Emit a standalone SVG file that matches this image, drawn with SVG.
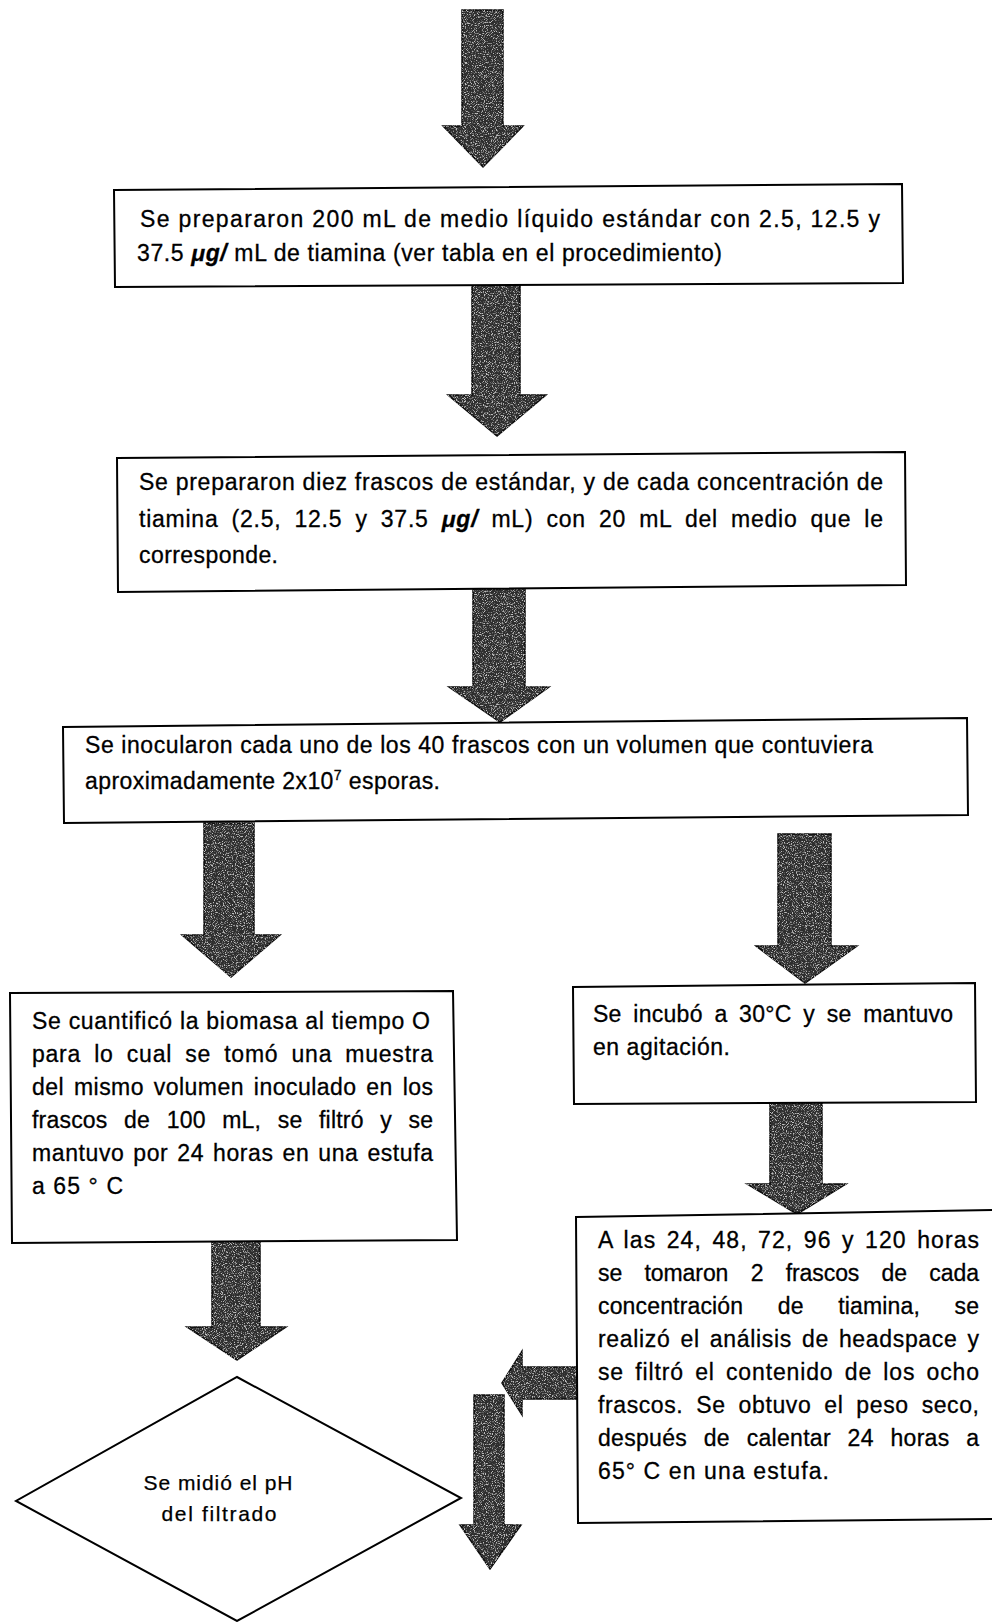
<svg xmlns="http://www.w3.org/2000/svg" width="992" height="1622" viewBox="0 0 992 1622">
<style>
.bg{fill:#fff}
.box{fill:#fff;stroke:#000;stroke-width:2;stroke-linejoin:miter}
.arr{fill:#2e2e2e;stroke:#0a0a0a;stroke-width:1.5;stroke-linejoin:miter;filter:url(#grain)}
.t{font-family:"Liberation Sans",Arial,sans-serif;font-size:23px;fill:#000;stroke:#000;stroke-width:0.3}
.tn{font-family:"Liberation Sans",Arial,sans-serif;font-size:23px;fill:#000;stroke:#000;stroke-width:0.3}
.td{font-family:"Liberation Sans",Arial,sans-serif;font-size:21px;fill:#000;stroke:#000;stroke-width:0.25}
.mu{font-style:italic;font-weight:bold}
</style>
<defs>
<filter id="grain" x="-5%" y="-5%" width="110%" height="110%" color-interpolation-filters="sRGB">
<feTurbulence type="fractalNoise" baseFrequency="0.9" numOctaves="2" seed="7" result="noise"/>
<feColorMatrix in="noise" type="matrix" values="0 0 0 0 0.75  0 0 0 0 0.75  0 0 0 0 0.75  5 0 0 0 -2.55" result="spk"/>
<feComposite in="spk" in2="SourceAlpha" operator="in" result="spkIn"/>
<feMerge><feMergeNode in="SourceGraphic"/><feMergeNode in="spkIn"/></feMerge>
</filter>
</defs>
<rect class="bg" x="0" y="0" width="992" height="1622"/>

<g id="connectors">
<polygon class="arr" points="462,10 503,10 503,126 523,126 483,167 443,126 462,126"/>
<polygon class="arr" points="472,283 520,283 520,395 546,395 497,436 448,395 472,395"/>
<polygon class="arr" points="473,588 525,588 525,687 549,687 500,722 449,687 473,687"/>
<polygon class="arr" points="204,823 254,823 254,935 280,935 231,977 182,935 204,935"/>
<polygon class="arr" points="778,834 831,834 831,946 857,946 805,983 756,946 778,946"/>
<polygon class="arr" points="212,1241 260,1241 260,1327 286,1327 237,1360 187,1327 212,1327"/>
<polygon class="arr" points="770,1102 822,1102 822,1184 846,1184 797,1214 747,1184 770,1184"/>
<polygon class="arr" points="577,1367 577,1399 522,1399 522,1415 502,1383 522,1351 522,1367"/>
<polygon class="arr" points="474,1395 504,1395 504,1525 521,1525 490,1569 460,1525 474,1525"/>
</g>

<g id="n1">
<polygon class="box" points="114,190 902,184 903,283 115,287"/>
<text class="t" x="140" y="227" textLength="740" lengthAdjust="spacing">Se prepararon 200 mL de medio líquido estándar con 2.5, 12.5 y</text>
<text class="t" x="137" y="261" textLength="585" lengthAdjust="spacing">37.5 <tspan class="mu">μg/</tspan> mL de tiamina (ver tabla en el procedimiento)</text>
</g>

<g id="n2">
<polygon class="box" points="117,458 905,452 906,585 118,592"/>
<text class="t" x="139" y="490" textLength="744" lengthAdjust="spacing">Se prepararon diez frascos de estándar, y de cada concentración de</text>
<text class="t" x="139" y="527" textLength="744" lengthAdjust="spacing" word-spacing="6">tiamina (2.5, 12.5 y 37.5 <tspan class="mu">μg/</tspan> mL) con 20 mL del medio que le</text>
<text class="t" x="139" y="563" textLength="139" lengthAdjust="spacing">corresponde.</text>
</g>

<g id="n3">
<polygon class="box" points="63,727 967,718 968,815 64,823"/>
<text class="t" x="85" y="753" textLength="788" lengthAdjust="spacing">Se inocularon cada uno de los 40 frascos con un volumen que contuviera</text>
<text class="t" x="85" y="789" textLength="355" lengthAdjust="spacing">aproximadamente 2x10<tspan dy="-9" font-size="14">7</tspan><tspan dy="9"> esporas.</tspan></text>
</g>

<g id="n4">
<polygon class="box" points="10,993 453,991 457,1240 12,1243"/>
<text class="tn" x="32" y="1029" textLength="398" lengthAdjust="spacing">Se cuantificó la biomasa al tiempo O</text>
<text class="tn" x="32" y="1062" textLength="401" lengthAdjust="spacing" word-spacing="6">para lo cual se tomó una muestra</text>
<text class="tn" x="32" y="1095" textLength="401" lengthAdjust="spacing" word-spacing="3">del mismo volumen inoculado en los</text>
<text class="tn" x="32" y="1128" textLength="401" lengthAdjust="spacing" word-spacing="10">frascos de 100 mL, se filtró y se</text>
<text class="tn" x="32" y="1161" textLength="401" lengthAdjust="spacing" word-spacing="2">mantuvo por 24 horas en una estufa</text>
<text class="tn" x="32" y="1194" textLength="91" lengthAdjust="spacing">a 65 ° C</text>
</g>

<g id="n5">
<polygon class="box" points="573,987 975,983 976,1102 574,1104"/>
<text class="tn" x="593" y="1022" textLength="360" lengthAdjust="spacing" word-spacing="5">Se incubó a 30°C y se mantuvo</text>
<text class="tn" x="593" y="1055" textLength="137" lengthAdjust="spacing">en agitación.</text>
</g>

<g id="n6">
<polygon class="box" points="576,1217 998,1210 998,1519 578,1523"/>
<text class="tn" x="598" y="1248" textLength="381" lengthAdjust="spacing" word-spacing="3">A las 24, 48, 72, 96 y 120 horas</text>
<text class="tn" x="598" y="1281" textLength="381" lengthAdjust="spacing" word-spacing="16">se tomaron 2 frascos de cada</text>
<text class="tn" x="598" y="1314" textLength="381" lengthAdjust="spacing" word-spacing="28">concentración de tiamina, se</text>
<text class="tn" x="598" y="1347" textLength="381" lengthAdjust="spacing" word-spacing="3">realizó el análisis de headspace y</text>
<text class="tn" x="598" y="1380" textLength="381" lengthAdjust="spacing" word-spacing="4">se filtró el contenido de los ocho</text>
<text class="tn" x="598" y="1413" textLength="381" lengthAdjust="spacing" word-spacing="6">frascos. Se obtuvo el peso seco,</text>
<text class="tn" x="598" y="1446" textLength="381" lengthAdjust="spacing" word-spacing="10">después de calentar 24 horas a</text>
<text class="tn" x="598" y="1479" textLength="231" lengthAdjust="spacing">65° C en una estufa.</text>
</g>

<g id="n7">
<polygon class="box" points="237,1377 461,1498 237,1621 16,1501"/>
<text class="td" x="218" y="1490" text-anchor="middle" textLength="149" lengthAdjust="spacing">Se midió el pH</text>
<text class="td" x="219" y="1521" text-anchor="middle" textLength="115" lengthAdjust="spacing">del filtrado</text>
</g>
</svg>
